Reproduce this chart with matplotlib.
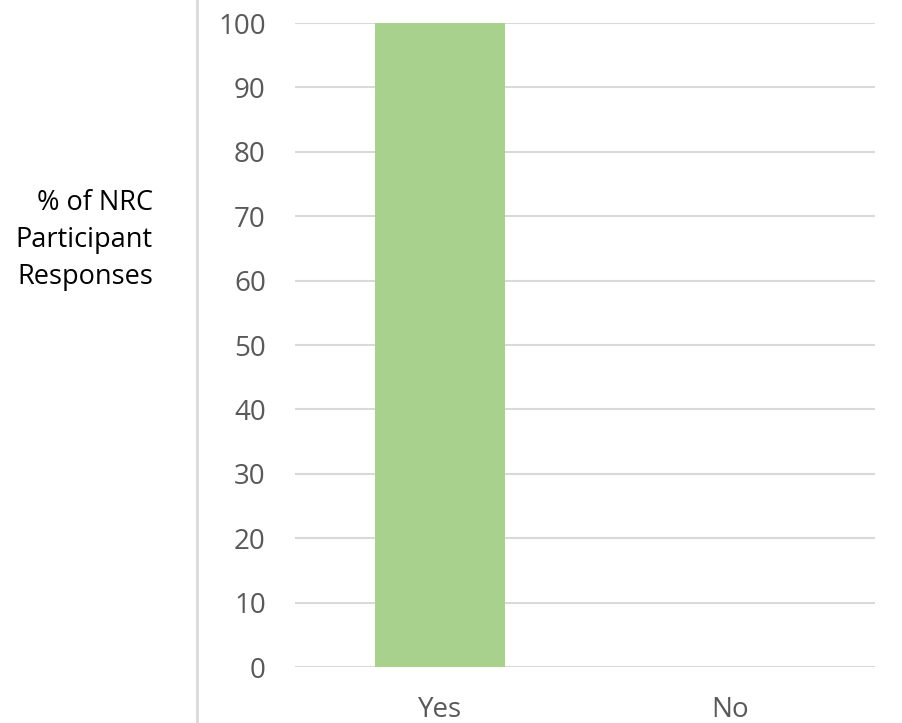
import matplotlib
matplotlib.use("Agg")
import matplotlib.pyplot as plt
from matplotlib.lines import Line2D

categories = ["Yes", "No"]
values = [100, 0]
y_ticks = [0, 10, 20, 30, 40, 50, 60, 70, 80, 90, 100]

plt.rcParams['font.family'] = ['Open Sans', 'DejaVu Sans']

W, H = 902, 723
fig = plt.figure(figsize=(W / 100, H / 100), dpi=100)
ax = fig.add_axes([295 / W, 1 - 667 / H, 580 / W, (667 - 23) / H])

x = list(range(len(categories)))
ax.bar(x, values, width=0.445, color="#A9D18E", zorder=3)

ax.set_xlim(-0.5, len(categories) - 0.5)
ax.set_ylim(0, 100)
ax.set_yticks(y_ticks)
ax.set_xticks(x)
ax.set_xticklabels(categories)

ax.grid(axis="y", color="#D9D9D9", linewidth=1.5, zorder=0)
ax.grid(axis="x", visible=False)
for s in ax.spines.values():
    s.set_visible(False)
ax.tick_params(axis="both", length=0, labelsize=20, labelcolor="#595959")
ax.tick_params(axis="y", pad=21)
ax.tick_params(axis="x", pad=21)

fig.text(153 / W, 1 - 240 / H, "% of NRC\nParticipant\nResponses",
         ha="right", va="center", fontsize=19.5, color="black",
         multialignment="right", linespacing=1.45)

fig.add_artist(Line2D([197 / W, 197 / W], [0, 1], transform=fig.transFigure,
                      color="#D9D9D9", linewidth=2))

fig.savefig("out.png", dpi=100, facecolor="white")
